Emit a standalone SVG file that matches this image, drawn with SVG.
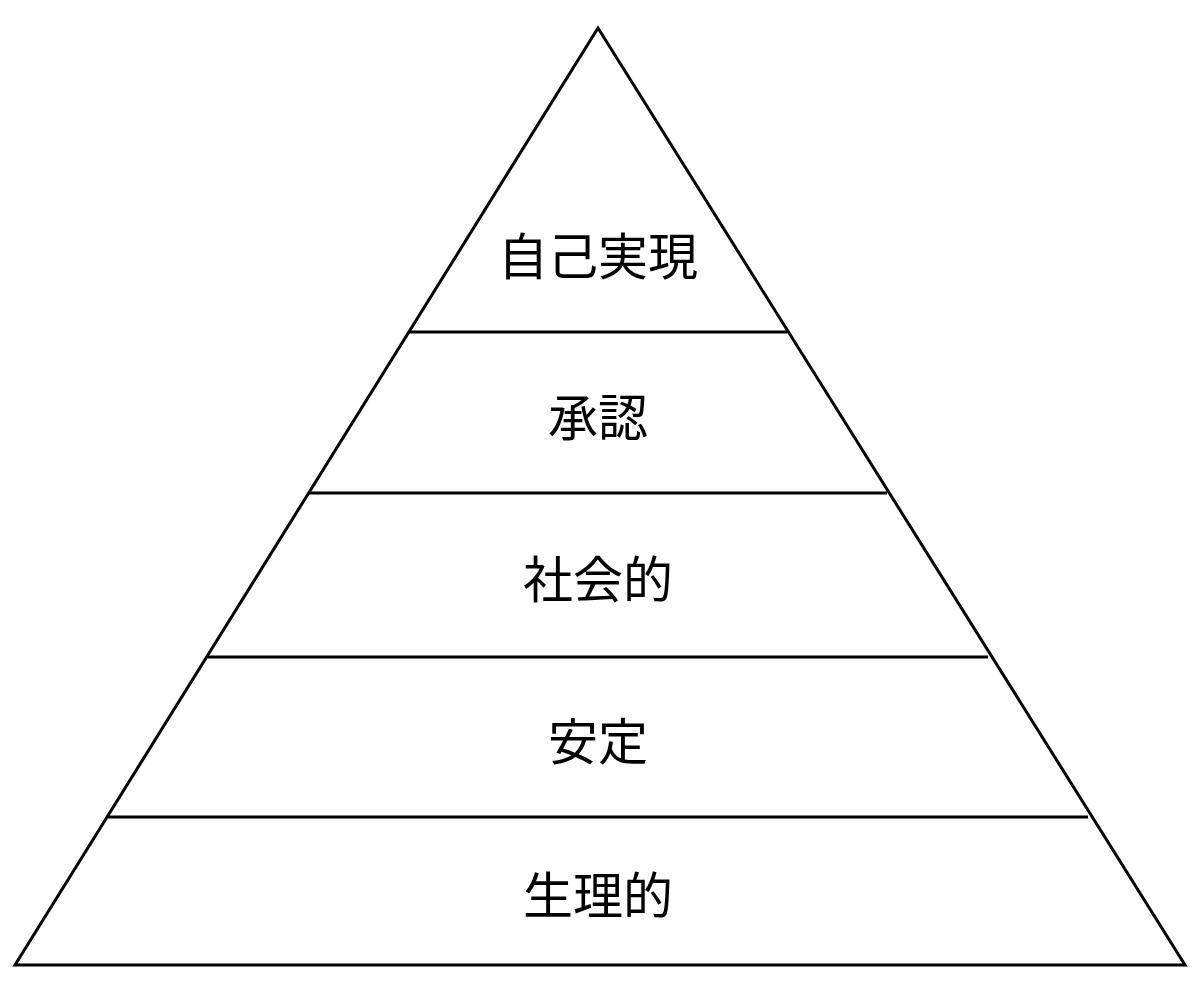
<svg xmlns="http://www.w3.org/2000/svg" width="1200" height="988" viewBox="0 0 1200 988">
<style>
.s{fill:none;stroke:#000;stroke-width:3}
.t{font-family:"Noto Sans CJK JP","Noto Sans CJK SC",sans-serif;font-size:50px;text-anchor:middle;dominant-baseline:central;fill:#000}
</style>
<rect width="1200" height="988" fill="#fff"/>
<g id="pyramid"><polygon class="s" points="598,28 15,965 1185,965"/></g>
<g id="connectors">
<line class="s" x1="409" y1="332" x2="787" y2="332"/>
<line class="s" x1="309" y1="493" x2="887" y2="493"/>
<line class="s" x1="208" y1="657" x2="988" y2="657"/>
<line class="s" x1="108" y1="817" x2="1088" y2="817"/>
</g>
<g id="n1"><text class="t" x="598" y="253">自己実現</text></g>
<g id="n2"><text class="t" x="598" y="414">承認</text></g>
<g id="n3"><text class="t" x="598" y="576">社会的</text></g>
<g id="n4"><text class="t" x="598" y="738">安定</text></g>
<g id="n5"><text class="t" x="598" y="892">生理的</text></g>
</svg>
